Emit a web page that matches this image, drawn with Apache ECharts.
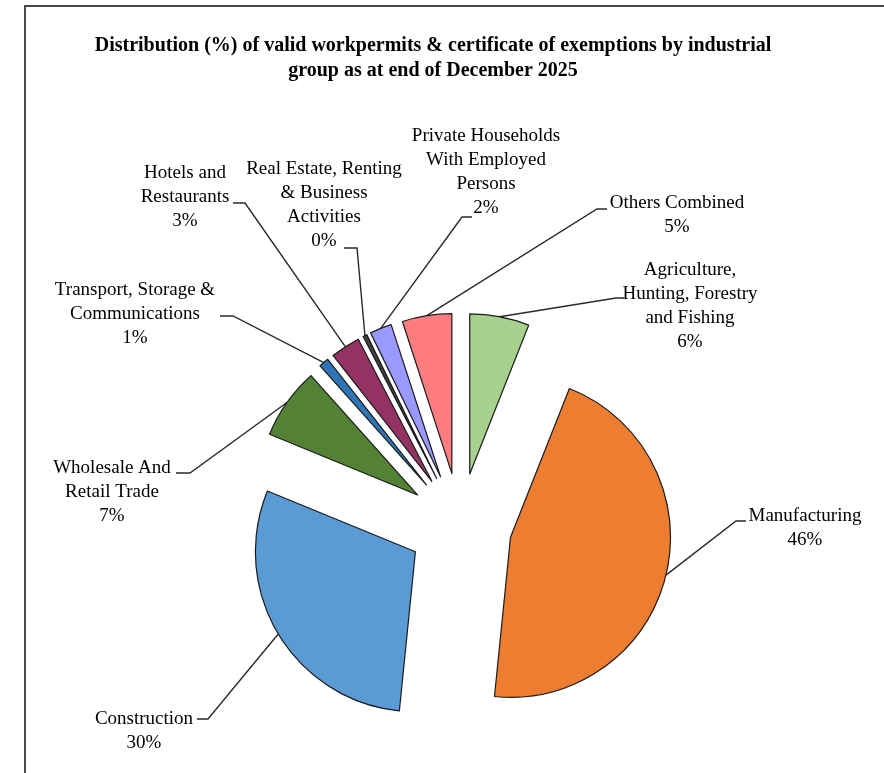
<!DOCTYPE html>
<html>
<head>
<meta charset="utf-8">
<script src="https://cdn.jsdelivr.net/npm/echarts@6/dist/echarts.min.js"></script>
<style>
  html, body { margin: 0; padding: 0; background: #fff; }
  #frame { position: absolute; left: 24px; top: 5px; width: 880px; height: 790px;
           border-top: 2px solid #4a4a4a; border-left: 2px solid #4a4a4a; }
  #chart { position: absolute; left: 0; top: 0; width: 884px; height: 773px; }
</style>
</head>
<body>
<div id="frame"></div>
<div id="chart"></div>
<script>
var categories = [
    'Agriculture,\nHunting, Forestry\nand Fishing',
    'Manufacturing',
    'Construction',
    'Wholesale And\nRetail Trade',
    'Transport, Storage &\nCommunications',
    'Hotels and\nRestaurants',
    'Real Estate, Renting\n& Business\nActivities',
    'Private Households\nWith Employed\nPersons',
    'Others Combined'
];
var shares = [6.0, 45.6, 29.6, 7.2, 1.0, 3.0, 0.4, 2.2, 5.0];

var palette = ['#a9d18e', '#ed7d31', '#5b9bd5', '#548235', '#2e75b6', '#953264', '#404040', '#9999ff', '#ff7c80'];

var pieCenter = [460, 525];
var pieRadius = 160;
var explode = 52;

// label block: [centre x, top y]
var labelPos = [[690, 258], [805, 504], [144, 707], [112, 456], [135, 278], [185, 161], [324, 157], [486, 124], [677, 191]];
// leader line: [elbow x, y, stub end x]
var leader = [[616, 298, 624], [736, 521, 746], [208, 719, 197], [190, 473, 176], [233, 316, 220],
              [245, 203, 233], [357, 248, 344], [462, 217, 472], [597, 209, 607]];

var pieData = categories.map(function (name, i) {
    return { name: name, value: shares[i], selected: true, itemStyle: { color: palette[i] } };
});
// ghost ring, radius reaches the outer arc of the exploded slices; carries the labels
var labelData = categories.map(function (name, i) {
    return { name: name, value: shares[i] };
});

var myChart = echarts.init(document.getElementById('chart'));
myChart.setOption({
    backgroundColor: 'transparent',
    animation: false,
    title: {
        text: 'Distribution (%) of valid workpermits & certificate of exemptions by industrial\ngroup as at end of December 2025',
        left: 433,
        top: 33,
        padding: 0,
        textAlign: 'center',
        textStyle: {
            fontFamily: 'Liberation Serif',
            fontSize: 20,
            fontWeight: 'bold',
            lineHeight: 25,
            color: '#000'
        }
    },
    series: [{
        type: 'pie',
        center: pieCenter,
        radius: pieRadius,
        startAngle: 90,
        clockwise: true,
        selectedMode: 'multiple',
        selectedOffset: explode,
        emphasis: { disabled: true },
        itemStyle: { borderColor: '#1a1a1a', borderWidth: 1.2 },
        label: { show: false },
        labelLine: { show: false },
        data: pieData
    }, {
        type: 'pie',
        center: pieCenter,
        radius: pieRadius + explode,
        startAngle: 90,
        clockwise: true,
        silent: true,
        selectedMode: false,
        emphasis: { disabled: true },
        itemStyle: { color: 'rgba(0,0,0,0)', borderWidth: 0 },
        label: {
            show: true,
            position: 'outside',
            fontFamily: 'Liberation Serif',
            fontSize: 19,
            lineHeight: 24,
            color: '#000',
            align: 'center',
            formatter: function (p) {
                return p.name + '\n' + Math.round(p.value) + '%';
            }
        },
        labelLine: {
            show: true,
            length: 10,
            length2: 10,
            lineStyle: { color: '#2a2a2a', width: 1.4 }
        },
        labelLayout: function (params) {
            var i = params.dataIndex;
            var out = { x: labelPos[i][0], y: labelPos[i][1], align: 'center', verticalAlign: 'top' };
            if (params.labelLinePoints) {
                var l = leader[i];
                out.labelLinePoints = [params.labelLinePoints[0], [l[0], l[1]], [l[2], l[1]]];
            }
            return out;
        },
        data: labelData
    }]
});
</script>
</body>
</html>
